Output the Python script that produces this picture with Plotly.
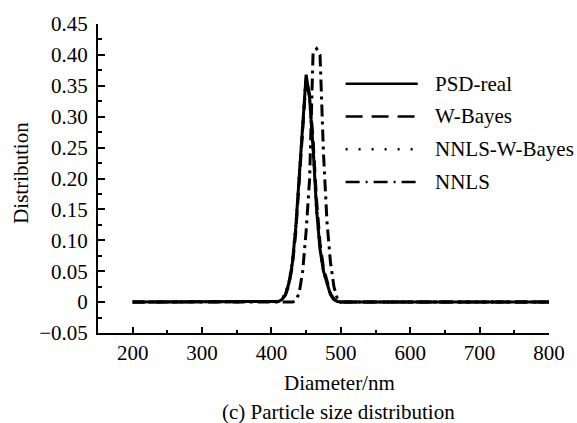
import plotly.graph_objects as go

# Particle diameter grid (nm)
diameter = [200, 400, 405, 410, 415, 420, 425, 430, 435, 440, 445, 450, 455,
            460, 465, 470, 475, 480, 485, 490, 495, 500, 505, 510, 800]

# Distribution values for each inversion method
psd_real = [0, 0, 0, 0.001, 0.004, 0.012, 0.030, 0.062, 0.120, 0.200, 0.290, 0.368, 0.330,
            0.250, 0.150, 0.085, 0.050, 0.030, 0.012, 0.004, 0.001, 0, 0, 0, 0]
w_bayes = [0, 0, 0, 0.001, 0.004, 0.011, 0.027, 0.058, 0.112, 0.190, 0.282, 0.362, 0.335,
           0.262, 0.165, 0.095, 0.055, 0.032, 0.014, 0.005, 0.001, 0, 0, 0, 0]
nnls_w_bayes = [0, 0, 0, 0.001, 0.005, 0.013, 0.031, 0.064, 0.122, 0.203, 0.292, 0.366, 0.328,
                0.248, 0.150, 0.086, 0.050, 0.029, 0.012, 0.004, 0.001, 0, 0, 0, 0]
nnls = [0, 0, 0, 0, 0, 0, 0, 0, 0.002, 0.015, 0.050, 0.115, 0.200,
        0.405, 0.410, 0.400, 0.240, 0.130, 0.065, 0.025, 0.005, 0, 0, 0, 0]

series_names = ["PSD-real", "W-Bayes", "NNLS-W-Bayes", "NNLS"]
series_values = [psd_real, w_bayes, nnls_w_bayes, nnls]
series_dash = ["solid", "12px,7px", "2px,6px", "12px,5px,3px,5px"]
legend_dash = ["solid", "17px,9px", "2px,11px", "14px,6px,2px,6px"]

x_ticks = [200, 300, 400, 500, 600, 700, 800]
y_ticks = [-0.05, 0, 0.05, 0.10, 0.15, 0.20, 0.25, 0.30, 0.35, 0.40, 0.45]
y_ticktext = ["\u22120.05", "0", "0.05", "0.10", "0.15", "0.20", "0.25", "0.30",
              "0.35", "0.40", "0.45"]

FONT = "Liberation Serif, Times New Roman, serif"
FS = 21

fig = go.Figure()
for name, vals, dash in zip(series_names, series_values, series_dash):
    fig.add_trace(go.Scatter(x=diameter, y=vals, mode="lines", name=name,
                             line=dict(color="black", width=3, dash=dash),
                             showlegend=False))

# Hand-built legend (long sample lines)
legend_rows_y = [0.807, 0.701, 0.595, 0.489]
for name, dash, yy in zip(series_names, legend_dash, legend_rows_y):
    fig.add_shape(type="line", xref="paper", yref="paper", x0=0.549, x1=0.709,
                  y0=yy, y1=yy, line=dict(color="black", width=2.5, dash=dash))
    fig.add_annotation(xref="paper", yref="paper", x=0.742, y=yy, text=name,
                       showarrow=False, xanchor="left", yanchor="middle",
                       font=dict(family=FONT, size=FS, color="black"))

# Axis titles and caption
fig.add_annotation(xref="paper", yref="paper", x=0.536, y=-0.161, text="Diameter/nm",
                   showarrow=False, xanchor="center", yanchor="middle",
                   font=dict(family=FONT, size=FS, color="black"))
fig.add_annotation(xref="paper", yref="paper", x=0.534, y=-0.257,
                   text="(c) Particle size distribution",
                   showarrow=False, xanchor="center", yanchor="middle",
                   font=dict(family=FONT, size=FS, color="black"))
fig.add_annotation(xref="paper", yref="paper", x=-0.171, y=0.518, text="Distribution",
                   showarrow=False, textangle=-90, xanchor="center", yanchor="middle",
                   font=dict(family=FONT, size=FS, color="black"))

fig.update_layout(
    width=577, height=423,
    margin=dict(l=98, r=22, t=22, b=90),
    paper_bgcolor="white", plot_bgcolor="white",
    font=dict(family=FONT, size=FS, color="black"),
    xaxis=dict(range=[150, 800], tickvals=x_ticks, ticks="inside", ticklen=6,
               tickwidth=1.5, tickcolor="black", showline=True, linewidth=2,
               linecolor="black", showgrid=False, zeroline=False,
               minor=dict(ticks="inside", ticklen=3, tickwidth=1.5, tickcolor="black",
                          tickvals=[250, 350, 450, 550, 650, 750]),
               tickfont=dict(family=FONT, size=FS, color="black")),
    yaxis=dict(range=[-0.05, 0.45], tickvals=y_ticks, ticktext=y_ticktext,
               ticks="inside", ticklen=7, tickwidth=1.5, tickcolor="black",
               showline=True, linewidth=2, linecolor="black", showgrid=False,
               zeroline=False, ticklabelstandoff=4,
               minor=dict(ticks="inside", ticklen=4, tickwidth=1.5, tickcolor="black",
                          tickvals=[-0.025, 0.025, 0.075, 0.125, 0.175, 0.225,
                                    0.275, 0.325, 0.375, 0.425]),
               tickfont=dict(family=FONT, size=FS, color="black")),
)

fig.write_html("out.html")
